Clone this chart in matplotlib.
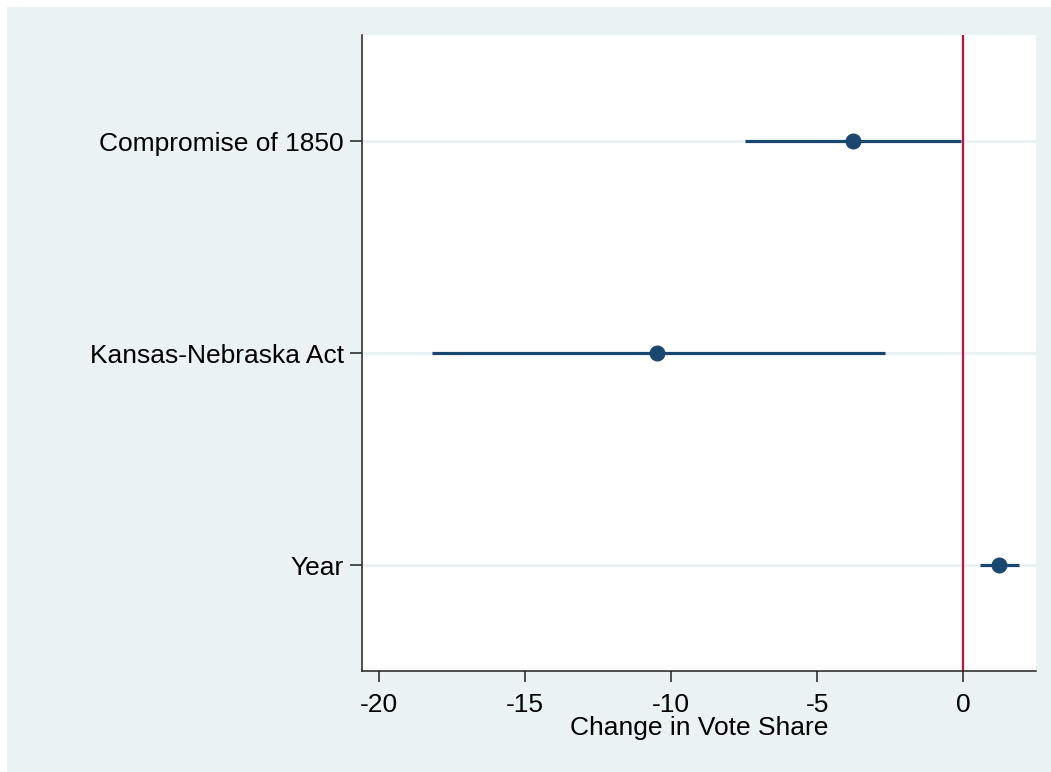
import matplotlib
matplotlib.use("Agg")
import matplotlib.pyplot as plt
from matplotlib.patches import Rectangle

categories = ["Compromise of 1850", "Kansas-Nebraska Act", "Year"]
estimates = [-3.77, -10.47, 1.21]
ci_low = [-7.46, -18.19, 0.57]
ci_high = [-0.07, -2.70, 1.90]
xticks = [-20, -15, -10, -5, 0]

plt.rcParams['font.family'] = ['Liberation Sans', 'DejaVu Sans']

W, H = 1051, 772
fig = plt.figure(figsize=(W / 100, H / 100), dpi=100)
fig.patch.set_facecolor('white')
bg = '#eaf2f3'
fig.patches.append(Rectangle((7 / W, 0), 1 - 7 / W, 1 - 7 / H, transform=fig.transFigure,
                             facecolor=bg, edgecolor='none', zorder=-10))

ax = fig.add_axes([362 / W, 1 - 671 / H, (1036 - 362) / W, (671 - 35) / H])
ax.set_facecolor('white')

ypos = list(range(1, len(categories) + 1))
navy = '#1a476f'
for y in ypos:
    ax.axhline(y, color=bg, lw=2.2, zorder=0)
ax.axvline(0, color='#c8103c', lw=1.6, zorder=1)
for y, e, lo, hi in zip(ypos, estimates, ci_low, ci_high):
    ax.plot([lo, hi], [y, y], color=navy, lw=2.3, solid_capstyle='butt', zorder=2)
ax.plot(estimates, ypos, 'o', color=navy, markersize=10.5, zorder=3)

ax.set_xlim(-20.57, 2.48)
ax.set_ylim(3.5, 0.5)
ax.set_xticks(xticks)
ax.set_xticklabels([str(t) for t in xticks])
ax.set_yticks(ypos)
ax.set_yticklabels(categories)

for s in ['top', 'right']:
    ax.spines[s].set_visible(False)
for s in ['left', 'bottom']:
    ax.spines[s].set_color('#222222')
    ax.spines[s].set_linewidth(1.1)

ax.tick_params(axis='x', length=8, width=1.1, color='#222222', labelsize=19, pad=8)
ax.tick_params(axis='y', length=9, width=1.1, color='#222222', labelsize=19, pad=4)
ax.set_xlabel('Change in Vote Share', fontsize=19, labelpad=-1)

fig.savefig('out.png', dpi=100, facecolor=fig.get_facecolor())
